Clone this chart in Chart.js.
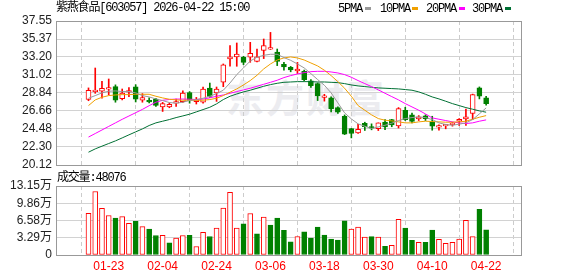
<!DOCTYPE html>
<html>
<head>
<meta charset="utf-8">
<script src="https://cdn.jsdelivr.net/npm/chart.js@4.4.1/dist/chart.umd.min.js"></script>
<style>
  body { margin: 0; background: #fff; width: 578px; height: 276px; overflow: hidden; position: relative; }
  canvas { position: absolute; left: 0; }
  .txt { position: absolute; white-space: nowrap; font: 12px "Liberation Mono", "Noto Sans CJK SC", monospace; letter-spacing: -1.2px; color: #000; line-height: 14px; }
  .dash { position: absolute; width: 6px; height: 3px; }
  .wm { position: absolute; left: 226px; top: 68px; font: bold 38px "Noto Sans CJK SC", sans-serif; color: #ececf0; letter-spacing: 2px; white-space: nowrap; }
</style>
</head>
<body>
<div class="wm">东方财富</div>
<canvas id="kline" width="578" height="180" style="top:0"></canvas>
<canvas id="vol" width="578" height="106" style="top:170px"></canvas>

<div class="txt" style="left:56px;top:1px">紫燕食品[603057] 2026-04-22 15:00</div>
<div class="txt" style="left:338px;top:2px">5PMA</div><div class="dash" style="left:365px;top:7px;background:#999"></div>
<div class="txt" style="left:380px;top:2px">10PMA</div><div class="dash" style="left:412px;top:7px;background:#f0a000"></div>
<div class="txt" style="left:426px;top:2px">20PMA</div><div class="dash" style="left:459px;top:7px;background:#ff00ff"></div>
<div class="txt" style="left:472px;top:2px">30PMA</div><div class="dash" style="left:505px;top:7px;background:#007034"></div>
<div class="txt" id="volTitle" style="left:57px;top:171px"></div>

<script>
// 交易日 (60 根K线)
const dates = ["01-20","01-21","01-22","01-23","01-26","01-27","01-28","01-29","01-30","02-02",
  "02-03","02-04","02-05","02-06","02-09","02-10","02-11","02-12","02-13","02-24",
  "02-25","02-26","02-27","03-02","03-03","03-04","03-05","03-06","03-09","03-10",
  "03-11","03-12","03-13","03-16","03-17","03-18","03-19","03-20","03-23","03-24",
  "03-25","03-26","03-27","03-30","03-31","04-01","04-02","04-03","04-07","04-08",
  "04-09","04-10","04-13","04-14","04-15","04-16","04-17","04-20","04-21","04-22"];

const opens = [28.05,29.00,29.07,29.30,29.60,28.14,28.95,29.58,27.97,27.95,
  28.11,27.14,27.14,27.60,27.78,28.90,27.80,27.74,29.44,28.83,
  30.15,32.96,33.20,33.16,33.16,32.67,34.00,34.15,33.80,32.30,
  31.95,31.50,31.45,30.32,29.97,28.30,28.24,27.07,26.02,24.53,
  24.00,25.15,24.65,24.53,25.30,25.62,24.85,26.75,26.19,25.70,
  26.06,25.30,24.70,24.85,25.00,25.42,25.70,26.35,29.45,28.24];
const highs = [29.45,31.86,30.24,30.53,29.82,29.32,29.50,29.84,28.76,28.24,
  28.20,27.70,27.65,28.10,29.10,29.00,28.30,29.56,30.04,29.56,
  32.35,34.57,34.89,33.28,34.97,34.16,35.37,36.17,34.16,32.55,
  32.05,32.54,31.60,30.45,30.05,28.68,28.36,27.15,26.18,24.55,
  25.03,25.30,25.10,25.22,25.62,25.65,27.07,27.11,26.40,26.10,
  26.20,26.02,24.97,25.05,25.30,25.74,26.90,28.70,29.57,28.44];
const lows = [27.90,28.80,28.20,28.60,27.72,28.00,28.40,27.75,27.72,27.63,
  27.20,26.60,27.05,27.20,27.70,27.60,27.50,27.60,28.30,27.82,
  29.60,32.07,32.07,32.27,32.55,32.60,33.00,34.10,32.15,31.60,
  31.40,31.20,30.30,29.50,27.92,27.85,26.55,26.35,23.80,23.40,
  23.95,24.30,24.38,24.29,24.41,24.75,24.60,25.50,25.20,25.50,
  25.50,24.33,24.33,24.50,24.82,24.90,24.90,25.62,28.12,27.35];
const closes = [29.15,29.20,29.40,29.45,27.96,28.84,29.05,28.10,28.28,27.75,
  27.33,27.54,27.45,27.70,28.83,27.95,28.00,29.32,28.42,29.32,
  32.25,33.20,33.56,32.55,33.64,33.20,34.57,34.20,32.67,32.00,
  31.62,31.74,30.44,29.72,28.47,28.38,26.91,26.51,23.85,23.93,
  24.45,24.75,24.58,25.22,24.73,24.98,26.95,25.62,25.41,25.94,
  25.74,24.82,24.86,24.95,25.05,25.66,25.94,28.64,28.44,27.55];

// 成交量 (手)
const volumes = [79200,121000,89100,75300,70200,73100,60300,64200,54100,49300,
  37200,37400,23100,32300,37100,37300,16200,43100,35200,51200,
  89300,119200,51100,59400,79100,40200,72300,57100,70300,47200,
  25100,35300,44200,32100,53200,38100,30200,28300,65300,49200,
  53100,34200,35100,34300,16300,18200,68200,51300,28100,24300,
  24200,47300,30100,22200,24300,30200,66300,35100,87200,48076];

// 均线
const ma5 = [28.20,28.52,28.85,29.05,29.09,29.01,29.01,28.85,28.52,28.36,
  28.12,27.92,27.68,27.60,27.72,27.92,28.04,28.20,28.44,28.76,
  29.17,30.05,31.06,31.87,32.71,33.16,33.40,33.52,33.52,33.12,
  32.79,32.35,31.87,31.18,30.46,29.77,28.85,27.64,26.43,25.70,
  25.10,24.81,24.53,24.73,24.93,25.18,25.50,25.74,25.86,25.94,
  25.86,25.62,25.22,25.02,24.93,25.06,25.22,25.62,26.31,27.03];
const ma10 = [27.31,28.00,28.32,28.52,28.60,28.64,28.64,28.68,28.68,28.68,
  28.44,28.24,28.08,28.00,27.96,27.96,27.96,27.96,28.04,28.20,
  28.52,28.93,29.33,29.81,30.34,30.98,31.75,32.35,32.83,33.08,
  33.20,33.08,32.83,32.47,32.11,31.59,30.94,30.21,29.41,28.44,
  27.31,26.75,26.19,25.74,25.54,25.46,25.34,25.22,25.22,25.34,
  25.42,25.38,25.34,25.30,25.30,25.34,25.42,25.66,25.90,26.10];
const ma20 = [23.50,23.93,24.36,24.79,25.22,25.65,26.05,26.45,26.85,27.30,
  27.72,27.95,28.05,28.10,28.10,28.08,28.05,28.10,28.25,28.44,
  28.60,28.80,29.01,29.21,29.41,29.65,29.89,30.13,30.38,30.70,
  30.94,31.14,31.30,31.42,31.46,31.46,31.38,31.26,31.06,30.74,
  30.34,29.97,29.61,29.21,28.80,28.40,28.00,27.55,27.15,26.75,
  26.30,25.82,25.66,25.50,25.34,25.22,25.14,25.22,25.42,25.58];
const ma30 = [21.67,22.07,22.40,22.72,23.04,23.40,23.77,24.13,24.49,24.90,
  25.22,25.42,25.62,25.86,26.06,26.27,26.55,26.83,27.11,27.52,
  28.04,28.44,28.72,28.97,29.17,29.41,29.65,29.85,30.01,30.13,
  30.17,30.21,30.21,30.21,30.17,30.17,30.13,30.09,29.97,29.81,
  29.69,29.61,29.53,29.45,29.41,29.37,29.33,29.25,29.17,28.97,
  28.68,28.36,28.12,27.84,27.55,27.31,27.07,26.87,26.67,26.51];

// 刻度
const priceTicks = ["20.12","22.30","24.48","26.66","28.84","31.02","33.20","35.37","37.55"];
const volTicks = ["0","3.29万","6.58万","9.86万","13.15万"];
const dateTickIdx = [3, 11, 19, 27, 35, 43, 51, 59];

const RED = "#ff0000", GREEN = "#008000";
const up = closes.map((c, i) => c >= opens[i]);
// 成交量颜色按收盘价与前一日收盘比较
const volUp = closes.map((c, i) => i === 0 ? up[0] : c >= closes[i - 1]);

document.getElementById("volTitle").textContent = "成交量:" + volumes[volumes.length - 1];

const priceVals = priceTicks.map(Number);
const volVals = volTicks.map(s => (parseFloat(s) || 0) * 10000);

// 画外框
const framePlugin = {
  id: "frame",
  afterDatasetsDraw(chart) {
    const a = chart.chartArea, ctx = chart.ctx;
    ctx.save();
    ctx.strokeStyle = "#999";
    ctx.lineWidth = 1;
    ctx.strokeRect(Math.round(a.left) + 0.5, Math.round(a.top) + 0.5,
      Math.round(a.right - a.left) - 1, Math.round(a.bottom - a.top));
    ctx.restore();
  }
};

function xScale(showLabels) {
  return {
    type: "linear", min: -0.5, max: 60,
    afterBuildTicks: s => { s.ticks = dateTickIdx.map(v => ({ value: v })); },
    afterFit: s => { s.height = showLabels ? 21 : 0; },
    grid: { color: "#cccccc", drawTicks: false },
    border: { display: false, dash: [4, 3] },
    ticks: {
      display: showLabels, padding: 4, color: RED, maxRotation: 0, autoSkip: false,
      font: { family: "'Liberation Sans', Arial", size: 12 },
      callback: v => dates[v]
    }
  };
}

function yScale(vals, labels) {
  return {
    min: vals[0], max: vals[vals.length - 1],
    afterBuildTicks: s => { s.ticks = vals.map(v => ({ value: v })); },
    afterFit: s => { s.width = 56; },
    grid: { color: "#d2d2d2", drawTicks: false },
    border: { display: false },
    ticks: {
      padding: 4, color: "#222", autoSkip: false,
      font: { family: "'Liberation Sans', 'Noto Sans CJK SC', Arial", size: 12 },
      callback: (v, i) => labels[i]
    }
  };
}

const idx = dates.map((d, i) => i);

function maLine(data, color) {
  return {
    type: "line", data: idx.map(i => ({ x: i, y: data[i] })),
    borderColor: color, borderWidth: 1, pointRadius: 0, tension: 0, order: 0
  };
}

new Chart(document.getElementById("kline"), {
  type: "bar",
  data: {
    datasets: [
      {
        // 影线
        data: idx.map(i => ({ x: i, y: [lows[i], highs[i]] })),
        backgroundColor: idx.map(i => up[i] ? RED : GREEN),
        barThickness: 1, grouped: false, order: 3
      },
      {
        // 实体
        data: idx.map(i => ({ x: i, y: [opens[i], closes[i]] })),
        backgroundColor: idx.map(i => up[i] ? "#ffffff" : GREEN),
        borderColor: idx.map(i => up[i] ? RED : GREEN),
        borderWidth: 1, borderSkipped: false, minBarLength: 1.5,
        barThickness: 5, grouped: false, order: 2
      },
      maLine(ma5, "#999999"),
      maLine(ma10, "#f0a000"),
      maLine(ma20, "#ff00ff"),
      maLine(ma30, "#007034")
    ]
  },
  options: {
    responsive: false, animation: false, devicePixelRatio: 1,
    layout: { padding: { top: 21, right: 56, bottom: 15, left: 0 } },
    plugins: { legend: { display: false }, tooltip: { enabled: false } },
    scales: { x: xScale(false), y: yScale(priceVals, priceTicks) }
  },
  plugins: [framePlugin]
});

new Chart(document.getElementById("vol"), {
  type: "bar",
  data: {
    datasets: [{
      data: idx.map(i => ({ x: i, y: volumes[i] })),
      backgroundColor: idx.map(i => volUp[i] ? "#ffffff" : GREEN),
      borderColor: idx.map(i => volUp[i] ? RED : GREEN),
      borderWidth: 1, borderSkipped: false, barThickness: 5
    }]
  },
  options: {
    responsive: false, animation: false, devicePixelRatio: 1,
    layout: { padding: { top: 16, right: 56, bottom: 0, left: 0 } },
    plugins: { legend: { display: false }, tooltip: { enabled: false } },
    scales: { x: xScale(true), y: yScale(volVals, volTicks) }
  },
  plugins: [framePlugin]
});
</script>
</body>
</html>
